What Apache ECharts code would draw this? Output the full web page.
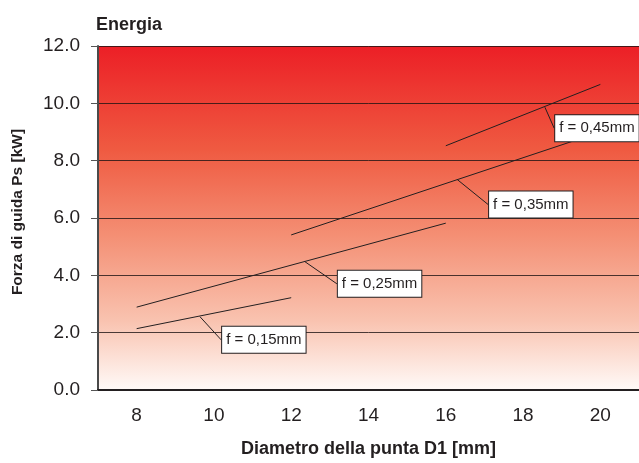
<!DOCTYPE html>
<html>
<head>
<meta charset="utf-8">
<script src="https://cdn.jsdelivr.net/npm/echarts@6/dist/echarts.min.js"></script>
<style>
  html, body { margin: 0; padding: 0; background: #fff; }
  #chart { width: 639px; height: 463px; }
</style>
</head>
<body>
<div id="chart"></div>
<script>
// etichette asse x (diametro punta D1)
const xLabels = ['8', '10', '12', '14', '16', '18', '20'];

// curve forza di guida per avanzamento f
const f015 = [[8, 2.14], [12, 3.22]];
const f025 = [[8, 2.89], [16, 5.82]];
const f035 = [[12, 5.41], [20, 9.0]];
const f045 = [[16, 8.52], [20, 10.66]];

// etichette delle curve e punto di attacco sulla curva
const curveNames = ['f = 0,15mm', 'f = 0,25mm', 'f = 0,35mm', 'f = 0,45mm'];
const curveAnchors = [[9.63, 2.57], [12.34, 4.49], [16.28, 7.36], [18.56, 9.88]];
// spostamento del riquadro rispetto al punto di attacco (px)
const labelOffsets = [[23, 11], [34, 10], [33, 13], [11, 9]];

const FONT = "'Liberation Sans', Arial, Helvetica, sans-serif";
const TXT = '#231f20';

const chart = echarts.init(document.getElementById('chart'));

function lineSeries(name, data) {
    return {
        name: name,
        type: 'line',
        xAxisIndex: 1,
        data: data,
        symbol: 'none',
        silent: true,
        lineStyle: { color: '#231f20', width: 1 },
        z: 3
    };
}

const labelData = curveAnchors.map(function (p, i) {
    return {
        value: p,
        label: {
            formatter: curveNames[i],
            position: labelOffsets[i]
        }
    };
});

const option = {
    animation: false,
    title: {
        text: 'Energia',
        left: 96,
        top: 16,
        padding: 0,
        textStyle: { fontFamily: FONT, fontSize: 18, fontWeight: 'bold', color: TXT }
    },
    grid: {
        left: 98,
        top: 46,
        width: 543,
        height: 346,
        show: true,
        borderWidth: 0,
        backgroundColor: new echarts.graphic.LinearGradient(0, 0, 0, 1, [
            { offset: 0, color: '#ec1f26' },
            { offset: 0.3, color: '#ef5a41' },
            { offset: 0.55, color: '#f48f74' },
            { offset: 0.8, color: '#f9c3b0' },
            { offset: 1, color: '#fffaf8' }
        ])
    },
    xAxis: [
        {
            type: 'category',
            data: xLabels,
            boundaryGap: true,
            name: 'Diametro della punta D1 [mm]',
            nameLocation: 'middle',
            nameGap: 50,
            nameTextStyle: { fontFamily: FONT, fontSize: 18, fontWeight: 'bold', color: TXT },
            axisLine: { lineStyle: { color: '#231f20', width: 2 } },
            axisTick: { length: 7, lineStyle: { color: '#444', width: 1 } },
            axisLabel: { fontFamily: FONT, fontSize: 19, color: TXT, margin: 16 },
            splitLine: { show: false }
        },
        {
            type: 'value',
            min: 7,
            max: 21,
            show: false,
            splitLine: { show: false }
        }
    ],
    yAxis: {
        type: 'value',
        min: 0,
        max: 12,
        interval: 2,
        name: 'Forza di guida Ps [kW]',
        nameLocation: 'middle',
        nameGap: 72,
        nameTextStyle: { fontFamily: FONT, fontSize: 15.5, fontWeight: 'bold', color: TXT, padding: [0, 0, 0, 12] },
        axisLine: { show: true, lineStyle: { color: '#4a4a4a', width: 2 } },
        axisTick: { show: true, length: 7, lineStyle: { color: '#555', width: 1 } },
        axisLabel: {
            fontFamily: FONT, fontSize: 19, color: TXT, margin: 18,
            formatter: function (v) { return v.toFixed(1); }
        },
        splitLine: { lineStyle: { color: 'rgba(30,20,20,0.8)', width: 1 } }
    },
    series: [
        lineSeries('f015', f015),
        lineSeries('f025', f025),
        lineSeries('f035', f035),
        lineSeries('f045', f045),
        {
            type: 'scatter',
            xAxisIndex: 1,
            data: labelData,
            symbolSize: 1,
            silent: true,
            itemStyle: { color: 'rgba(0,0,0,0)', opacity: 1 },
            z: 5,
            label: {
                show: true,
                fontFamily: FONT,
                fontSize: 15,
                color: TXT,
                backgroundColor: '#ffffff',
                borderColor: '#231f20',
                borderWidth: 1,
                padding: [4, 4, 4, 4],
                lineHeight: 18,
                align: 'left',
                verticalAlign: 'top'
            },
            labelLine: {
                show: true,
                smooth: false,
                lineStyle: { color: '#231f20', width: 1, opacity: 1 }
            }
        }
    ]
};

chart.setOption(option);
</script>
</body>
</html>
